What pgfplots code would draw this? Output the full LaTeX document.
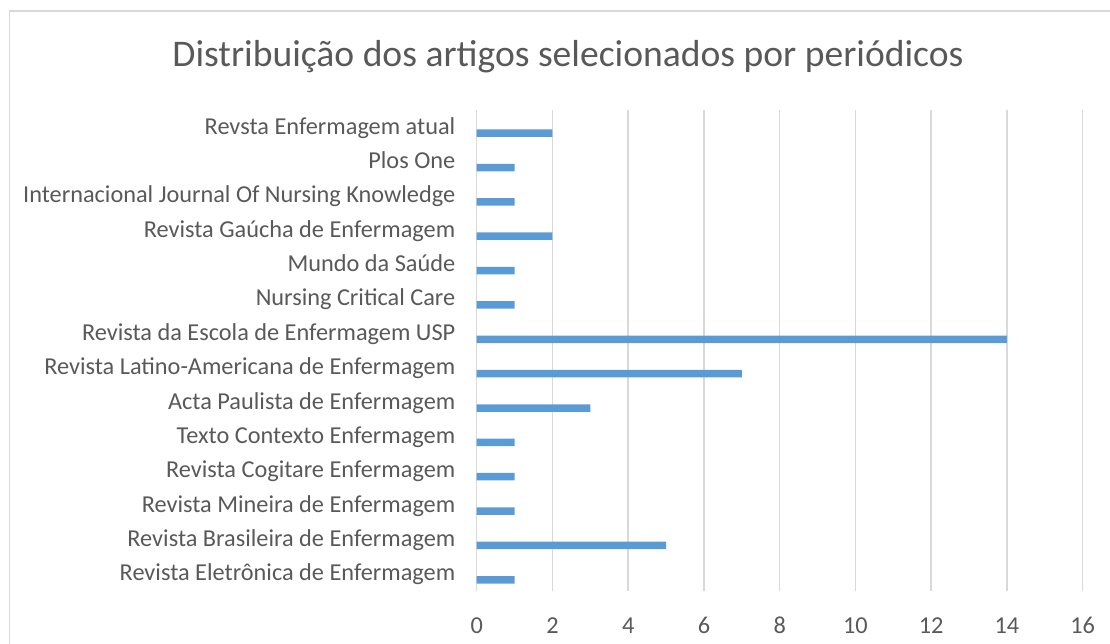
\documentclass[border=0pt]{standalone}
\usepackage{fontspec}
\setmainfont{Carlito}
\usepackage{pgfplots}
\pgfplotsset{compat=1.18}
\definecolor{barblue}{HTML}{5B9BD5}
\definecolor{txt}{HTML}{595959}
\definecolor{grd}{HTML}{D9D9D9}
\begin{document}
\begin{tikzpicture}
\draw[grd, line width=1.5pt] (9.5pt,-20pt) -- (9.5pt,633pt) -- (1130pt,633pt);
\node[txt, anchor=base, inner sep=0pt, font=\fontsize{37.6}{45}\selectfont] at (568pt,577pt) {Distribuição dos artigos selecionados por periódicos};
\begin{axis}[
  at={(476.7pt,53pt)}, anchor=south west,
  scale only axis, width=606pt, height=481pt,
  xbar, bar width=7.5pt, bar shift=-6pt,
  xmin=0, xmax=16, xtick={0,2,...,16},
  ymin=-0.5, ymax=13.5, ytick={0,...,13},
  yticklabels={Revista Eletrônica de Enfermagem, Revista Brasileira de Enfermagem, Revista Mineira de Enfermagem, Revista Cogitare Enfermagem\ , Texto Contexto Enfermagem, Acta Paulista de Enfermagem, Revista Latino-Americana de Enfermagem, Revista da Escola de Enfermagem USP, Nursing Critical Care\ , Mundo da Saúde, Revista Gaúcha de Enfermagem\ , Internacional Journal Of Nursing Knowledge, Plos One, Revsta Enfermagem atual},
  axis line style={draw=none},
  tick style={draw=none},
  xmajorgrids, major grid style={grd, line width=1.5pt},
  /pgf/number format/assume math mode=true,
  ticklabel style={txt, font=\fontsize{24.3}{28}\selectfont},
  xticklabel style={anchor=center, yshift=-34.7pt},
  yticklabel style={anchor=base east, inner sep=0pt, xshift=-17pt, yshift=-7pt},
  clip=false,
]
\addplot[fill=barblue, draw=none] coordinates {
(1,0) (5,1) (1,2) (1,3) (1,4) (3,5) (7,6) (14,7) (1,8) (1,9) (2,10) (1,11) (1,12) (2,13)
};
\end{axis}
\pgfresetboundingbox
\useasboundingbox (0,0) rectangle (1110pt,644pt);
\end{tikzpicture}
\end{document}
